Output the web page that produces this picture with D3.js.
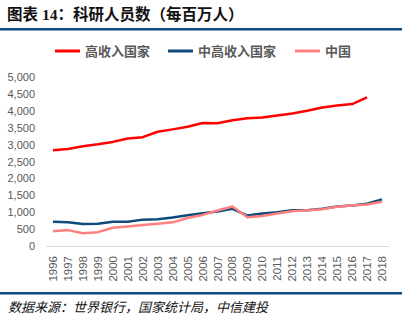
<!DOCTYPE html>
<html>
<head>
<meta charset="utf-8">
<script src="https://cdn.jsdelivr.net/npm/d3@7"></script>
<style>
  body { margin: 0; background: #fff; }
  svg { display: block; }
</style>
</head>
<body>
<div id="vis"></div>
<script>
// data
var years = ["1996","1997","1998","1999","2000","2001","2002","2003","2004","2005","2006","2007",
             "2008","2009","2010","2011","2012","2013","2014","2015","2016","2017","2018"];
var highIncome = [2830,2870,2950,3010,3080,3180,3220,3380,3450,3530,3640,3630,
                  3720,3780,3800,3860,3920,4000,4100,4160,4200,4400,null];
var upperMiddle = [720,700,650,660,720,720,780,790,840,910,970,1020,
                   1100,900,960,1000,1060,1060,1100,1170,1200,1250,1380];
var china = [440,470,380,410,540,580,620,660,700,830,920,1050,
             1170,850,890,960,1030,1060,1090,1160,1200,1230,1310];
var yTicks = [0,500,1000,1500,2000,2500,3000,3500,4000,4500,5000];

var series = [
  {name: "高收入国家", values: highIncome, color: "#ff0000"},
  {name: "中高收入国家", values: upperMiddle, color: "#0e4a7c"},
  {name: "中国", values: china, color: "#ff8080"}
];

var width = 402, height = 324;
var font = "'Liberation Sans', Arial, 'Noto Sans CJK SC', sans-serif";

var svg = d3.select("#vis").append("svg")
    .attr("width", width).attr("height", height);

// title
svg.append("text")
    .attr("x", 7).attr("y", 20)
    .style("font-family", "'Liberation Serif', 'Noto Sans CJK SC', serif")
    .style("font-size", "15.5px").style("font-weight", "bold")
    .style("fill", "#111")
    .text("图表 14：科研人员数（每百万人）");

svg.append("rect").attr("x", 0).attr("y", 28).attr("width", width).attr("height", 2.5)
    .style("fill", "#0e4a7c");
svg.append("rect").attr("x", 0).attr("y", 292).attr("width", width).attr("height", 2.5)
    .style("fill", "#0e4a7c");

// source
svg.append("text")
    .attr("x", 8).attr("y", 312)
    .style("font-family", "'Noto Sans CJK SC', sans-serif")
    .style("font-size", "13px").style("font-style", "italic")
    .style("fill", "#111")
    .text("数据来源：世界银行，国家统计局，中信建投");

// scales
var x = d3.scalePoint().domain(years).range([53, 382]);
var y = d3.scaleLinear().domain([0, 5000]).range([246, 77]);

// y axis labels
svg.append("g").selectAll("text").data(yTicks).enter().append("text")
    .attr("x", 35).attr("y", function(d) { return y(d) + 4; })
    .attr("text-anchor", "end")
    .style("font-family", font).style("font-size", "11px")
    .style("fill", "#595959")
    .text(function(d) { return d3.format(",")(d); });

// x axis line
svg.append("line")
    .attr("x1", 46).attr("x2", 389)
    .attr("y1", y(0) + 0.5).attr("y2", y(0) + 0.5)
    .style("stroke", "#d9d9d9").style("stroke-width", 1);

// x labels, rotated
svg.append("g").selectAll("text").data(years).enter().append("text")
    .attr("transform", function(d) { return "translate(" + (x(d) + 4) + ",256) rotate(-90)"; })
    .attr("text-anchor", "end")
    .style("font-family", font).style("font-size", "11.5px")
    .style("fill", "#595959")
    .text(function(d) { return d; });

// lines
var line = d3.line()
    .defined(function(d) { return d != null; })
    .x(function(d, i) { return x(years[i]); })
    .y(function(d) { return y(d); });

series.forEach(function(s) {
  svg.append("path")
      .datum(s.values)
      .attr("d", line)
      .style("fill", "none")
      .style("stroke", s.color)
      .style("stroke-width", 2.5)
      .style("stroke-linejoin", "round");
});

// legend
var legendX = [55, 168, 295];
series.forEach(function(s, i) {
  var g = svg.append("g").attr("transform", "translate(" + legendX[i] + ",51)");
  g.append("line").attr("x1", 0).attr("x2", 25).attr("y1", 0).attr("y2", 0)
      .style("stroke", s.color).style("stroke-width", 3);
  g.append("text").attr("x", 30).attr("y", 5)
      .style("font-family", "'Noto Sans CJK SC', sans-serif")
      .style("font-size", "13px").style("font-weight", "bold")
      .style("fill", "#595959")
      .text(s.name);
});
</script>
</body>
</html>
